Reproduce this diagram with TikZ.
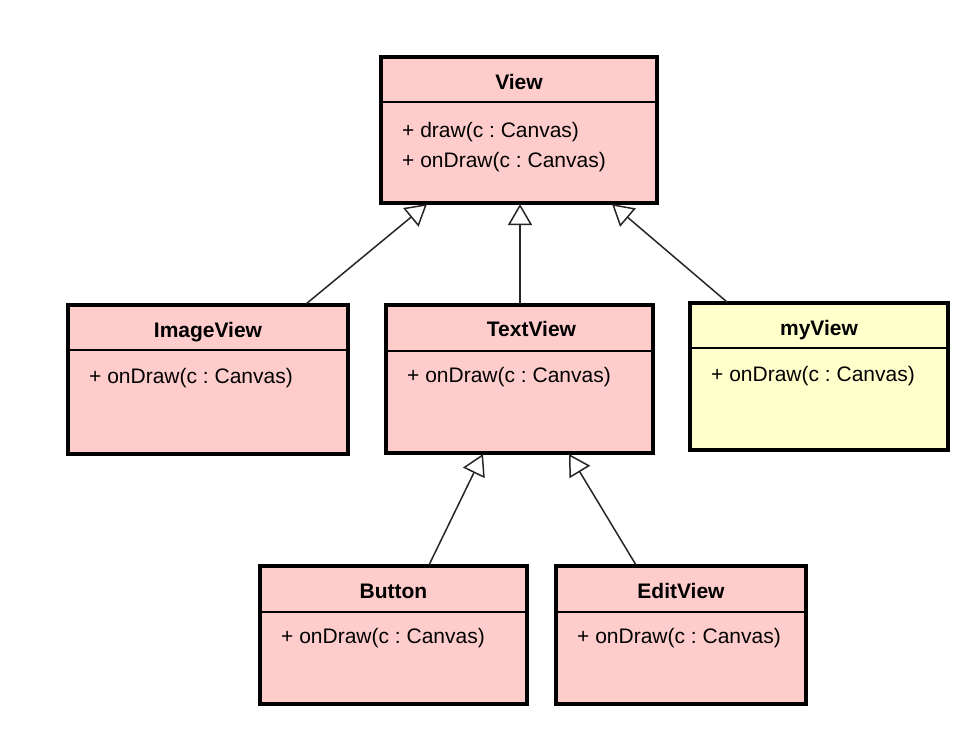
\documentclass[tikz,border=0pt]{standalone}
\usepackage{fontspec}
\setmainfont{Liberation Sans}
\usetikzlibrary{arrows.meta}
\definecolor{classpink}{RGB}{255,204,204}
\definecolor{classyellow}{RGB}{255,255,204}
\frenchspacing
\tikzset{
  cls/.style={draw=black, line width=3.3pt, rectangle, inner sep=0pt, outer sep=0pt, anchor=north west},
  pinkcls/.style={cls, fill=classpink},
  yellowcls/.style={cls, fill=classyellow},
  ttl/.style={font=\bfseries\fontsize{21}{21}\selectfont, anchor=base, inner sep=0pt},
  mth/.style={font=\fontsize{21}{21}\selectfont, anchor=base west, inner sep=0pt},
  divider/.style={line width=1.4pt},
  gen/.style={line width=1.5pt, draw=black!85, -{Triangle[open, length=21pt, width=24pt, fill=white, line width=1.5pt]}}
}
\begin{document}
\begin{tikzpicture}[x=1pt, y=-1pt]
\useasboundingbox (0,0) rectangle (978,734);
\fill[white] (0,0) rectangle (978,734);

% View
\node[pinkcls, minimum width=276pt, minimum height=146pt] (view) at (381,57) {};
\draw[divider] ([yshift=-45pt]view.north west) -- ([yshift=-45pt]view.north east);
\node[ttl] (viewt) at ([yshift=-32pt]view.north) {View};
\node[mth] (viewm1) at ([xshift=21pt,yshift=-80pt]view.north west) {+ draw(c : Canvas)};
\node[mth] (viewm2) at ([xshift=21pt,yshift=-110pt]view.north west) {+ onDraw(c : Canvas)};

% ImageView
\node[pinkcls, minimum width=280pt, minimum height=149pt] (imageview) at (68,305) {};
\draw[divider] ([yshift=-45pt]imageview.north west) -- ([yshift=-45pt]imageview.north east);
\node[ttl] (imageviewt) at ([yshift=-32pt]imageview.north) {ImageView};
\node[mth] (imageviewm) at ([xshift=21pt,yshift=-78pt]imageview.north west) {+ onDraw(c : Canvas)};

% TextView
\node[pinkcls, minimum width=267pt, minimum height=148pt] (textview) at (386,305) {};
\draw[divider] ([yshift=-46pt]textview.north west) -- ([yshift=-46pt]textview.north east);
\node[ttl] (textviewt) at ([xshift=12pt,yshift=-31pt]textview.north) {TextView};
\node[mth] (textviewm) at ([xshift=21pt,yshift=-77pt]textview.north west) {+ onDraw(c : Canvas)};

% myView
\node[yellowcls, minimum width=258pt, minimum height=147pt] (myview) at (690,303) {};
\draw[divider] ([yshift=-45pt]myview.north west) -- ([yshift=-45pt]myview.north east);
\node[ttl] (myviewt) at ([yshift=-32pt]myview.north) {myView};
\node[mth] (myviewm) at ([xshift=21pt,yshift=-78pt]myview.north west) {+ onDraw(c : Canvas)};

% Button
\node[pinkcls, minimum width=267pt, minimum height=138pt] (button) at (260,566) {};
\draw[divider] ([yshift=-46pt]button.north west) -- ([yshift=-46pt]button.north east);
\node[ttl] (buttont) at ([yshift=-32pt]button.north) {Button};
\node[mth] (buttonm) at ([xshift=21pt,yshift=-77pt]button.north west) {+ onDraw(c : Canvas)};

% EditView
\node[pinkcls, minimum width=250pt, minimum height=138pt] (editview) at (556,566) {};
\draw[divider] ([yshift=-46pt]editview.north west) -- ([yshift=-46pt]editview.north east);
\node[ttl] (editviewt) at ([yshift=-32pt]editview.north) {EditView};
\node[mth] (editviewm) at ([xshift=21pt,yshift=-77pt]editview.north west) {+ onDraw(c : Canvas)};

% attachment points
\coordinate (viewL) at ([xshift=46pt,yshift=-1pt]view.south west);
\coordinate (viewC) at ([xshift=139pt,yshift=-1pt]view.south west);
\coordinate (viewR) at ([xshift=231pt,yshift=-1pt]view.south west);
\coordinate (tvL) at ([xshift=97pt,yshift=-1pt]textview.south west);
\coordinate (tvR) at ([xshift=183pt,yshift=-1pt]textview.south west);
\coordinate (ivTop) at ([xshift=238pt,yshift=1pt]imageview.north west);
\coordinate (tvTop) at ([xshift=134pt,yshift=1pt]textview.north west);
\coordinate (mvTop) at ([xshift=37pt,yshift=1pt]myview.north west);
\coordinate (btTop) at ([xshift=169pt,yshift=1pt]button.north west);
\coordinate (evTop) at ([xshift=80pt,yshift=1pt]editview.north west);

% generalizations
\draw[gen] (ivTop) -- (viewL);
\draw[gen] (tvTop) -- (viewC);
\draw[gen] (mvTop) -- (viewR);
\draw[gen] (btTop) -- (tvL);
\draw[gen] (evTop) -- (tvR);
\end{tikzpicture}
\end{document}
